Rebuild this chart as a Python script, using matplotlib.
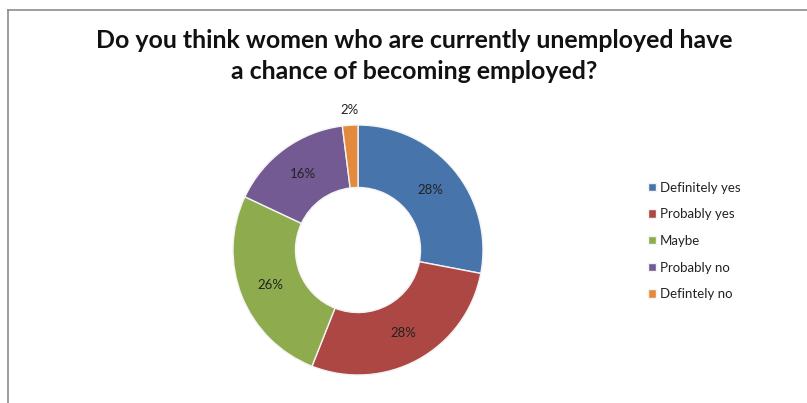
import matplotlib
matplotlib.use("Agg")
import matplotlib.pyplot as plt
from matplotlib.lines import Line2D

categories = ["Definitely yes", "Probably yes", "Maybe", "Probably no", "Defintely no"]
shares = [28, 28, 26, 16, 2]
colors = ["#4775AB", "#AD4744", "#8EAC4E", "#735A93", "#E58A3C"]
title = "Do you think women who are currently unemployed have\na chance of becoming employed?"

plt.rcParams["font.family"] = ["Lato", "DejaVu Sans"]

W, H = 807, 403
fig = plt.figure(figsize=(W / 100, H / 100), dpi=100)
fig.patch.set_facecolor("white")

# chart frame (top and left edges)
fig.add_artist(Line2D([8 / W, 1], [1 - 10 / H, 1 - 10 / H], color="#8c8c8c", lw=1.2))
fig.add_artist(Line2D([8 / W, 8 / W], [0, 1 - 10 / H], color="#8c8c8c", lw=1.2))

# donut
cx, cy, r = 358, 250, 125
ax = fig.add_axes([(cx - r) / W, (H - cy - r) / H, 2 * r / W, 2 * r / H])
wedges, texts, autotexts = ax.pie(
    shares, colors=colors, startangle=90, counterclock=False,
    autopct=lambda p: f"{p:.0f}%", pctdistance=0.755,
    wedgeprops=dict(width=0.5, edgecolor="#f4f4f4", linewidth=1.0),
    textprops=dict(fontsize=9.5, color="#222222"),
)
# small slice label sits outside the ring
small = autotexts[-1]
x, y = small.get_position()
scale = 1.12 / 0.755
small.set_position((x * scale, y * scale))
ax.set_xlim(-1, 1)
ax.set_ylim(-1, 1)
ax.set_aspect("equal")
ax.axis("off")

fig.text(414 / W, 1 - 56 / H, title, ha="center", va="center",
         fontsize=17.9, fontweight="bold", color="#111111", linespacing=1.4)

leg = fig.legend(wedges, categories, loc="upper left",
                 bbox_to_anchor=(641 / W, 1 - 175 / H), frameon=False,
                 fontsize=9.5, handlelength=0.6, handleheight=0.6,
                 handletextpad=0.35, labelspacing=1.11, borderpad=0)
for t in leg.get_texts():
    t.set_color("#222222")

fig.savefig("out.png", dpi=100, facecolor="white")
